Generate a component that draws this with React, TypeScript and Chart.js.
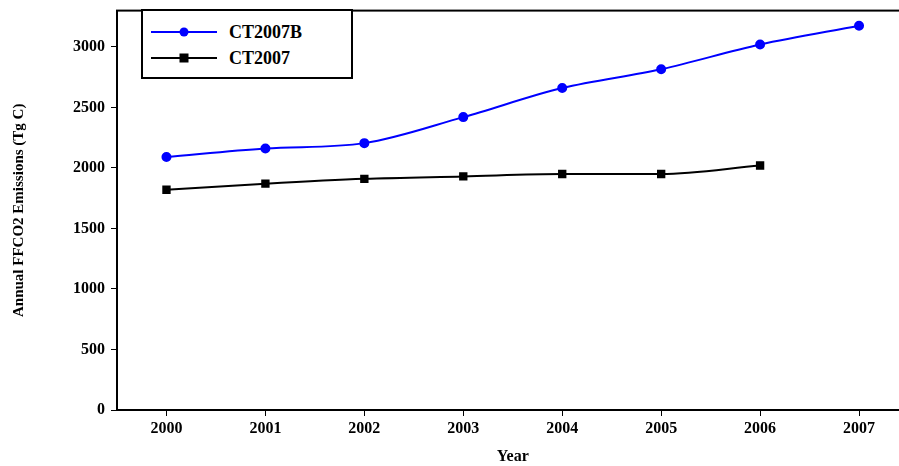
import { useEffect, useRef } from 'react'
import { Chart, registerables } from 'chart.js'

Chart.register(...registerables)

const years = [2000, 2001, 2002, 2003, 2004, 2005, 2006, 2007]
const ct2007b = [2090, 2160, 2205, 2420, 2660, 2815, 3020, 3175]
const ct2007 = [1820, 1870, 1910, 1930, 1950, 1950, 2020]
const yTicks = [0, 500, 1000, 1500, 2000, 2500, 3000]

const font = { family: 'Liberation Serif', weight: 'bold' as const, size: 16 }

export default function App() {
  const chartRef = useRef<HTMLCanvasElement>(null)

  useEffect(() => {
    if (!chartRef.current) return
    const frame = {
      id: 'frame',
      afterDraw(chart: Chart) {
        const { ctx, chartArea: a } = chart
        ctx.save()
        ctx.strokeStyle = '#000'
        ctx.lineWidth = 2
        ctx.strokeRect(a.left, a.top, a.right - a.left, a.bottom - a.top)
        ctx.restore()
      },
    }
    const chart = new Chart(chartRef.current, {
      type: 'line',
      data: {
        datasets: [
          {
            label: 'CT2007B',
            data: years.map((y, i) => ({ x: y, y: ct2007b[i] })),
            borderColor: '#0000ff',
            backgroundColor: '#0000ff',
            borderWidth: 2,
            pointRadius: 4,
            pointStyle: 'circle',
            cubicInterpolationMode: 'monotone',
          },
          {
            label: 'CT2007',
            data: ct2007.map((v, i) => ({ x: years[i], y: v })),
            borderColor: '#000',
            backgroundColor: '#000',
            borderWidth: 2,
            pointRadius: 4.5,
            pointStyle: 'rect',
            cubicInterpolationMode: 'monotone',
          },
        ],
      },
      options: {
        animation: false,
        responsive: false,
        layout: { padding: { top: 2, right: 0, left: 8, bottom: 0 } },
        plugins: { legend: { display: false }, tooltip: { enabled: false } },
        scales: {
          x: {
            type: 'linear',
            min: 1999.5,
            max: 2007.5,
            afterFit: (s: any) => { s.height = 56 },
            afterBuildTicks: (s: any) => { s.ticks = years.map((v) => ({ value: v })) },
            ticks: { color: '#000', font, callback: (v: any) => String(v) },
            grid: { drawOnChartArea: false, color: '#000', tickLength: 6 },
            border: { color: '#000', width: 2 },
            title: { display: true, text: 'Year', color: '#000', font, padding: 0 },
          },
          y: {
            min: 0,
            max: 3300,
            afterFit: (s: any) => { s.width = 109 },
            afterBuildTicks: (s: any) => {
              s.ticks = yTicks.map((v) => ({ value: v }))
            },
            ticks: { color: '#000', font, padding: 6, callback: (v: any) => String(v) },
            grid: { drawOnChartArea: false, color: '#000', tickLength: 6 },
            border: { color: '#000', width: 2 },
            title: { display: true, text: 'Annual FFCO2 Emissions (Tg C)', color: '#000', font: { ...font, size: 15 }, padding: 2 },
          },
        },
      },
      plugins: [frame],
    })
    return () => chart.destroy()
  }, [])

  const row = (label: string, color: string, marker: any) => (
    <div style={{ display: 'flex', alignItems: 'center', height: 26 }}>
      <svg width="66" height="14" style={{ marginLeft: 8 }}>
        <line x1="0" y1="7" x2="66" y2="7" stroke={color} strokeWidth="2" />
        {marker}
      </svg>
      <span style={{ marginLeft: 12 }}>{label}</span>
    </div>
  )

  return (
    <div style={{ position: 'absolute', left: 0, top: 0, width: 899, height: 466, background: '#fff', overflow: 'hidden' }}>
      <canvas ref={chartRef} width={915} height={471} style={{ position: 'absolute', left: 0, top: -5 }} />
      <div
        style={{
          position: 'absolute', left: 141, top: 9, width: 212, height: 70,
          border: '2px solid #000', background: '#fff',
          fontFamily: 'Liberation Serif', fontWeight: 'bold', fontSize: 18,
          paddingTop: 8, boxSizing: 'border-box',
        }}
      >
        {row('CT2007B', '#0000ff', <circle cx="33" cy="7" r="4.5" fill="#0000ff" />)}
        {row('CT2007', '#000', <rect x="28.5" y="2.5" width="9" height="9" fill="#000" />)}
      </div>
    </div>
  )
}
